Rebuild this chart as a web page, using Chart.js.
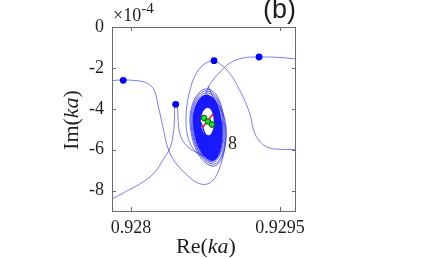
<!DOCTYPE html>
<html><head><meta charset="utf-8">
<script src="https://cdn.jsdelivr.net/npm/chart.js@4"></script>
<style>html,body{margin:0;padding:0;background:#fff}canvas{display:block}</style>
</head><body>
<canvas id="c" width="436" height="259"></canvas>
<script>
// ---- axis ticks ----
const xTicks = [0.928, 0.9295];
const xTickLabels = ['0.928', '0.9295'];
const yTicks = [0, -2, -4, -6, -8];          // Im(ka) in units of 1e-4
const yTickLabels = ['0', '-2', '-4', '-6', '-8'];
const xRange = [0.927809, 0.929661];
const yRange = [-9, 0];

// ---- trajectories (Re(ka), Im(ka) x 1e4) ----
const pathARe = [0.927809,0.927919,0.928040,0.928121,0.928191,0.928242,0.928272,0.928302,0.928332,0.928372,0.928443,0.928564,0.928674,0.928765,0.928836,0.928896,0.928936,0.928956,0.928956];
const pathAIm = [-2.617,-2.593,-2.617,-2.676,-2.838,-3.180,-3.816,-4.452,-5.137,-5.920,-6.605,-7.241,-7.632,-7.681,-7.436,-6.849,-6.115,-5.430,-4.795];

const pathBRe = [0.927809,0.927940,0.928121,0.928242,0.928322,0.928393,0.928428,0.928438,0.928438,0.928453,0.928468,0.928473,0.928493,0.928544,0.928634,0.928735];
const pathBIm = [-8.415,-8.072,-7.583,-7.094,-6.507,-5.920,-5.137,-4.452,-3.963,-3.792,-3.963,-4.452,-5.235,-5.724,-6.067,-6.262];

const pathCRe = [0.929661,0.929500,0.929369,0.929278,0.929228,0.929208,0.929168,0.929128,0.929077,0.929027,0.928956,0.928896,0.928836,0.928765,0.928695,0.928634,0.928594,0.928564,0.928554,0.928564,0.928604,0.928664,0.928745];
const pathCIm = [-5.984,-5.984,-5.871,-5.479,-4.941,-4.452,-3.865,-3.425,-2.935,-2.495,-2.055,-1.810,-1.649,-1.737,-2.006,-2.495,-3.082,-3.816,-4.550,-5.186,-5.773,-6.164,-6.360];

const pathDRe = [0.929661,0.929500,0.929289,0.929128,0.928997,0.928896,0.928826,0.928775,0.928755];
const pathDIm = [-1.566,-1.492,-1.468,-1.517,-1.761,-2.202,-2.593,-2.984,-3.327];

// outer (sparse) turns of the spiral: top, right, bottom, left
const spiralOuterRe = [
 0.928775,0.928956,0.928815,0.928594, 0.928775,0.928946,0.928815,0.928604,
 0.928775,0.928936,0.928805,0.928614, 0.928775,0.928926,0.928805,0.928624, 0.928775];
const spiralOuterIm = [
 -2.886,-5.039,-6.800,-4.648, -3.033,-5.039,-6.703,-4.648,
 -3.131,-5.039,-6.605,-4.648, -3.229,-4.990,-6.556,-4.648, -3.327];

// dense inner turns of the spiral: top, right, bottom, left
const spiralInnerRe = [
 0.928775,0.928916,0.928805,0.928629, 0.928775,0.928911,0.928805,0.928634,
 0.928775,0.928906,0.928805,0.928634, 0.928775,0.928906,0.928805,0.928639,
 0.928775,0.928901,0.928805,0.928639, 0.928775,0.928896,0.928805,0.928644,
 0.928775,0.928896,0.928805,0.928644, 0.928775,0.928891,0.928805,0.928649,
 0.928775,0.928886,0.928795,0.928649, 0.928775,0.928886,0.928795,0.928654,
 0.928775,0.928881,0.928795,0.928654, 0.928775,0.928876,0.928795,0.928659,
 0.928775,0.928876,0.928795,0.928659, 0.928775,0.928871,0.928795,0.928664,
 0.928775,0.928866,0.928795,0.928664, 0.928775,0.928866,0.928795,0.928669,
 0.928775,0.928861,0.928795,0.928669, 0.928775,0.928856,0.928785,0.928674,
 0.928775,0.928856,0.928785,0.928674, 0.928775,0.928851,0.928785,0.928679,
 0.928775,0.928851,0.928785,0.928685, 0.928775,0.928846,0.928785,0.928685,
 0.928775,0.928846,0.928775,0.928690, 0.928775,0.928841,0.928775,0.928695,
 0.928775,0.928841,0.928775,0.928695];
const spiralInnerIm = [
 -3.327,-4.990,-6.507,-4.599, -3.351,-4.990,-6.458,-4.599,
 -3.376,-4.990,-6.409,-4.599, -3.400,-4.990,-6.360,-4.599,
 -3.425,-4.941,-6.311,-4.599, -3.449,-4.941,-6.262,-4.599,
 -3.474,-4.941,-6.213,-4.599, -3.498,-4.941,-6.164,-4.599,
 -3.523,-4.892,-6.115,-4.599, -3.547,-4.892,-6.067,-4.599,
 -3.571,-4.892,-6.018,-4.599, -3.596,-4.892,-5.969,-4.599,
 -3.620,-4.843,-5.920,-4.599, -3.645,-4.843,-5.871,-4.599,
 -3.669,-4.843,-5.822,-4.599, -3.694,-4.843,-5.773,-4.599,
 -3.718,-4.795,-5.724,-4.599, -3.743,-4.795,-5.675,-4.599,
 -3.767,-4.795,-5.626,-4.599, -3.792,-4.795,-5.577,-4.599,
 -3.816,-4.746,-5.528,-4.599, -3.841,-4.746,-5.479,-4.599,
 -3.865,-4.746,-5.430,-4.599, -3.889,-4.697,-5.382,-4.599,
 -3.914,-4.697,-5.333,-4.599];

// marked points on the trajectories
const dotRe = [0.927922, 0.928450, 0.928836, 0.929289];
const dotIm = [-2.608, -3.782, -1.649, -1.468];

// converged point markers
const greenRe = [0.928735, 0.928775, 0.928815];
const greenIm = [-4.452, -4.623, -4.770];
const redARe = [0.928715, 0.928815];
const redAIm = [-4.305, -4.917];
const redBRe = [0.928826, 0.928720];
const redBIm = [-4.256, -4.917];

// annotation
const noteText = ['8'];
const noteRe = [0.929022];
const noteIm = [-5.65];

const toPts = (re, im) => re.map((x, i) => ({x, y: im[i]}));
const lineCol = 'rgba(20,20,235,0.62)';
const traj = (re, im, t, col, w) => ({data: toPts(re, im), showLine: true, borderColor: col || lineCol, borderWidth: w || 0.9, pointRadius: 0, tension: t, fill: false});

const SERIF = '"Liberation Serif", "Times New Roman", serif';
const SANS = '"Liberation Sans", Arial, sans-serif';
const TXT = '#1e1e1e';

function drawRuns(ctx, runs, x, y, align) {
  let w = 0;
  runs.forEach(r => { ctx.font = r.font; w += ctx.measureText(r.t).width; });
  let cx = align === 'center' ? x - w / 2 : x;
  ctx.textAlign = 'left';
  runs.forEach(r => { ctx.font = r.font; ctx.fillText(r.t, cx, y + (r.dy || 0)); cx += ctx.measureText(r.t).width; });
}

const decor = {
  id: 'decor',
  afterDraw(chart) {
    const {ctx, chartArea: a, scales: {x, y}} = chart;
    ctx.save();
    ctx.strokeStyle = '#6a6a6a';
    ctx.lineWidth = 1;
    ctx.strokeRect(a.left + 0.5, a.top + 0.5, a.right - a.left - 1, a.bottom - a.top);
    const tl = 4;
    ctx.beginPath();
    xTicks.forEach(v => { const px = Math.round(x.getPixelForValue(v)) + 0.5;
      ctx.moveTo(px, a.bottom); ctx.lineTo(px, a.bottom - tl);
      ctx.moveTo(px, a.top); ctx.lineTo(px, a.top + tl); });
    yTicks.forEach(v => { const py = Math.round(y.getPixelForValue(v)) + 0.5;
      ctx.moveTo(a.left, py); ctx.lineTo(a.left + tl, py);
      ctx.moveTo(a.right, py); ctx.lineTo(a.right - tl, py); });
    ctx.stroke();
    ctx.fillStyle = TXT;
    ctx.textBaseline = 'alphabetic';
    // exponent
    drawRuns(ctx, [{t: '\u00d710', font: '18px ' + SERIF}, {t: '-4', font: '15px ' + SERIF, dy: -8}], a.left + 1, 21, 'left');
    // panel tag
    ctx.font = '27px ' + SANS;
    ctx.textAlign = 'right';
    ctx.fillText('(b)', a.right, 18);
    // axis titles
    const lab = [{t: 'Re(', font: '22px ' + SERIF}, {t: 'ka', font: 'italic 22px ' + SERIF}, {t: ')', font: '22px ' + SERIF}];
    drawRuns(ctx, lab, (a.left + a.right) / 2 + 2, 253, 'center');
    ctx.save();
    ctx.translate(78, (a.top + a.bottom) / 2 + 1);
    ctx.rotate(-Math.PI / 2);
    drawRuns(ctx, [{t: 'Im(', font: '22px ' + SERIF}, {t: 'ka', font: 'italic 22px ' + SERIF}, {t: ')', font: '22px ' + SERIF}], 0, 0, 'center');
    ctx.restore();
    // annotation
    ctx.font = '18px ' + SERIF;
    ctx.textAlign = 'center';
    noteText.forEach((t, i) => ctx.fillText(t, x.getPixelForValue(noteRe[i]), y.getPixelForValue(noteIm[i]) + 6));
    ctx.restore();
  }
};

new Chart(document.getElementById('c'), {
  type: 'scatter',
  data: {datasets: [
    {data: toPts(greenRe, greenIm), showLine: true, borderColor: '#007a00', borderWidth: 1.2, pointRadius: 2.8, pointBackgroundColor: '#22dd22', pointBorderColor: '#005f00', pointBorderWidth: 1},
    {data: toPts(redARe, redAIm), showLine: true, borderColor: '#ff1a1a', borderWidth: 1.6, pointRadius: 0},
    {data: toPts(redBRe, redBIm), showLine: true, borderColor: '#ff1a1a', borderWidth: 1.6, pointRadius: 0},
    {data: toPts(dotRe, dotIm), showLine: false, pointRadius: 3.4, pointBackgroundColor: '#0000ff', pointBorderColor: '#0000ff', pointBorderWidth: 0},
    traj(pathARe, pathAIm, 0.4),
    traj(pathBRe, pathBIm, 0.4),
    traj(pathCRe, pathCIm, 0.4),
    traj(pathDRe, pathDIm, 0.4),
    traj(spiralOuterRe, spiralOuterIm, 0.55, 'rgba(20,20,235,0.75)', 0.9),
    traj(spiralInnerRe, spiralInnerIm, 0.55, 'rgba(0,0,255,0.9)', 1.4)
  ]},
  options: {
    responsive: false,
    devicePixelRatio: 1,
    animation: false,
    events: [],
    layout: {padding: {left: 0, top: 27, right: 140, bottom: 0}},
    plugins: {legend: {display: false}, tooltip: {enabled: false}},
    scales: {
      x: {
        type: 'linear', min: xRange[0], max: xRange[1],
        afterBuildTicks: s => { s.ticks = xTicks.map(v => ({value: v})); },
        afterFit: s => { s.height = 48; },
        ticks: {autoSkip: false, maxRotation: 0, padding: 6, color: TXT, font: {family: SERIF, size: 18},
          callback: v => xTickLabels[xTicks.indexOf(v)]},
        grid: {display: false, drawTicks: false},
        border: {display: false}
      },
      y: {
        type: 'linear', min: yRange[0], max: yRange[1],
        afterBuildTicks: s => { s.ticks = yTicks.map(v => ({value: v})); },
        afterFit: s => { s.width = 112; },
        ticks: {autoSkip: false, padding: 8, color: TXT, font: {family: SERIF, size: 18},
          callback: v => yTickLabels[yTicks.indexOf(v)]},
        grid: {display: false, drawTicks: false},
        border: {display: false}
      }
    }
  },
  plugins: [decor]
});
</script>
</body></html>
